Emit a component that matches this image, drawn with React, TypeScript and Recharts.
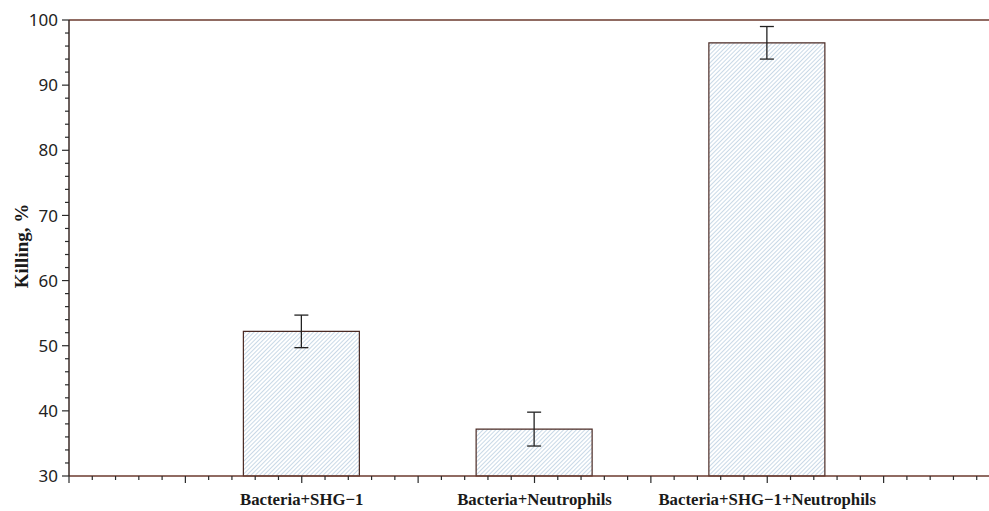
import { BarChart, Bar, XAxis, YAxis, ErrorBar, ReferenceLine, Label } from "recharts";

const CATEGORIES = ["Bacteria+SHG\u22121", "Bacteria+Neutrophils", "Bacteria+SHG\u22121+Neutrophils"];
const POSITIONS = [1, 2, 3];
const KILLING = [52.2, 37.2, 96.5];
const ERRORS = [2.5, 2.6, 2.5];

const Y_MAJOR = [30, 40, 50, 60, 70, 80, 90, 100];
const Y_TICKS = Array.from({ length: 36 }, (_, i) => 30 + i * 2);
const X_TICKS = Array.from({ length: 41 }, (_, i) => i / 10);

const AXIS_COLOR = "#6b3a2e";
const TICK_COLOR = "#2a2a2a";

const data = POSITIONS.map((pos, i) => ({
  pos,
  name: CATEGORIES[i],
  killing: KILLING[i],
  err: ERRORS[i],
}));

function YTick({ x, y, payload }: any) {
  const v = payload.value;
  const major = Y_MAJOR.includes(v);
  return (
    <g>
      <line x1={x - (major ? 7 : 4)} x2={x} y1={y} y2={y} stroke={TICK_COLOR} strokeWidth={1.2} />
      {major && (
        <text
          x={x - 11}
          y={y}
          dy="0.36em"
          textAnchor="end"
          fontFamily="'Noto Sans', sans-serif"
          fontSize={17}
          fill="#222"
        >
          {v}
        </text>
      )}
    </g>
  );
}

function XTick({ x, y, payload }: any) {
  const v = payload.value;
  const idx = Math.round(v * 10);
  const major = idx % 5 === 0;
  const catIndex = POSITIONS.indexOf(v);
  return (
    <g>
      <line x1={x} x2={x} y1={y} y2={y + (major ? 7 : 4)} stroke={TICK_COLOR} strokeWidth={1.2} />
      {catIndex >= 0 && (
        <text
          x={x}
          y={y + 29}
          textAnchor="middle"
          fontFamily="'Liberation Serif', 'Times New Roman', serif"
          fontWeight="bold"
          fontSize={16.8}
          fill="#1a1a1a"
        >
          {CATEGORIES[catIndex]}
        </text>
      )}
    </g>
  );
}

export default function App() {
  return (
    <div style={{ position: "absolute", left: 0, top: 0, width: 989, height: 511, overflow: "hidden", background: "#fff" }}>
      <BarChart width={1004} height={511} data={data} margin={{ top: 20, right: 4, left: 0, bottom: 0 }}>
        <defs>
          <pattern id="hatch" patternUnits="userSpaceOnUse" width={3} height={3} patternTransform="rotate(45)">
            <rect width={3} height={3} fill="#ffffff" />
            <line x1={0} y1={0} x2={0} y2={3} stroke="#9dbad4" strokeWidth={1.1} />
          </pattern>
        </defs>
        <XAxis
          dataKey="pos"
          type="number"
          domain={[0, 4]}
          ticks={X_TICKS}
          interval={0}
          height={35}
          tickSize={0}
          tickMargin={0}
          tickLine={false}
          axisLine={{ stroke: AXIS_COLOR, strokeWidth: 1.5 }}
          tick={<XTick />}
        />
        <YAxis
          type="number"
          domain={[30, 100]}
          ticks={Y_TICKS}
          interval={0}
          width={69}
          tickSize={0}
          tickMargin={0}
          tickLine={false}
          axisLine={{ stroke: "#3a2a26", strokeWidth: 1.5 }}
          tick={<YTick />}
        >
          <Label
            content={(p: any) => {
              const vb = p.viewBox || { x: 0, y: 20, width: 69, height: 456 };
              const cx = 21;
              const cy = vb.y + vb.height / 2 - 2;
              return (
                <text
                  x={cx}
                  y={cy}
                  transform={`rotate(-90 ${cx} ${cy})`}
                  textAnchor="middle"
                  dominantBaseline="central"
                  fontFamily="'Liberation Serif', 'Times New Roman', serif"
                  fontWeight="bold"
                  fontSize={19}
                  fill="#1a1a1a"
                >
                  Killing, %
                </text>
              );
            }}
          />
        </YAxis>
        <ReferenceLine y={100} stroke={AXIS_COLOR} strokeWidth={1.5} />
        <Bar dataKey="killing" barSize={116} fill="url(#hatch)" stroke="#4a2a24" strokeWidth={1.2} isAnimationActive={false}>
          <ErrorBar dataKey="err" width={7} stroke="#222" strokeWidth={1.3} direction="y" />
        </Bar>
      </BarChart>
    </div>
  );
}
